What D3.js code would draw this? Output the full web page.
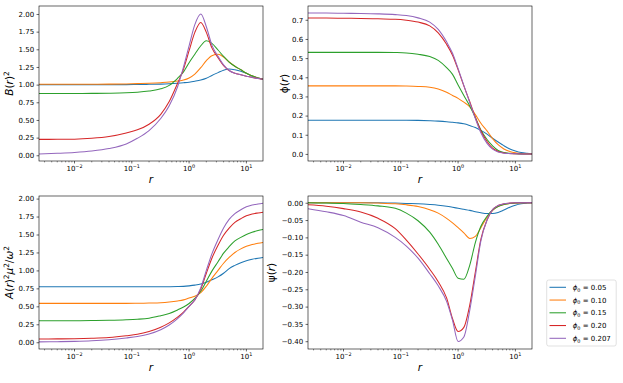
<!DOCTYPE html>
<html>
<head>
<meta charset="utf-8">
<script src="https://cdn.jsdelivr.net/npm/d3@7"></script>
<style>
body { margin: 0; background: #fff; }
svg text { font-family: 'DejaVu Sans', sans-serif; font-size: 7px; fill: #000; }
</style>
</head>
<body>
<div id="chart"></div>
<script>
// Sample radii (same grid for every curve)
const rGrid = [0.0024, 0.005, 0.01, 0.02, 0.04, 0.08, 0.125, 0.2, 0.32, 0.45, 0.63, 0.8, 1.0,
               1.26, 1.6, 2.0, 2.5, 3.2, 4.0, 5.0, 6.3, 8.0, 10, 12.6, 16, 19.5];

const phi0Labels = ['0.05', '0.10', '0.15', '0.20', '0.207'];
const colors = ['#1f77b4', '#ff7f0e', '#2ca02c', '#d62728', '#9467bd'];

// B(r)^2
const bSq = [
    [1.0, 1.0, 1.0, 1.0, 1.0, 1.0, 1.002, 1.004, 1.007, 1.012, 1.02, 1.027, 1.035, 1.048, 1.065, 1.09, 1.13, 1.17, 1.205, 1.22, 1.21, 1.19, 1.16, 1.12, 1.095, 1.075],
    [1.005, 1.005, 1.005, 1.006, 1.007, 1.01, 1.014, 1.02, 1.028, 1.036, 1.05, 1.065, 1.095, 1.15, 1.24, 1.34, 1.41, 1.43, 1.39, 1.32, 1.26, 1.21, 1.16, 1.125, 1.095, 1.075],
    [0.875, 0.875, 0.875, 0.876, 0.878, 0.884, 0.893, 0.91, 0.94, 0.99, 1.09, 1.18, 1.31, 1.43, 1.55, 1.62, 1.585, 1.49, 1.40, 1.32, 1.26, 1.21, 1.16, 1.125, 1.095, 1.075],
    [0.225, 0.226, 0.228, 0.24, 0.265, 0.315, 0.36, 0.44, 0.58, 0.76, 1.02, 1.22, 1.48, 1.74, 1.88, 1.74, 1.52, 1.38, 1.27, 1.20, 1.16, 1.14, 1.12, 1.10, 1.087, 1.075],
    [0.018, 0.028, 0.04, 0.06, 0.095, 0.16, 0.24, 0.35, 0.52, 0.70, 0.97, 1.25, 1.55, 1.85, 2.0, 1.82, 1.56, 1.40, 1.28, 1.20, 1.16, 1.14, 1.12, 1.10, 1.087, 1.075]
];

// phi(r)
const phiR = [
    [0.176, 0.176, 0.176, 0.176, 0.176, 0.176, 0.176, 0.175, 0.173, 0.171, 0.168, 0.165, 0.162, 0.157, 0.148, 0.138, 0.123, 0.103, 0.082, 0.062, 0.043, 0.026, 0.015, 0.007, 0.003, 0.001],
    [0.355, 0.355, 0.355, 0.355, 0.355, 0.355, 0.354, 0.352, 0.348, 0.339, 0.322, 0.305, 0.29, 0.27, 0.246, 0.205, 0.16, 0.12, 0.08, 0.048, 0.026, 0.013, 0.006, 0.002, 0.0005, 0],
    [0.53, 0.53, 0.53, 0.53, 0.53, 0.529, 0.527, 0.52, 0.508, 0.488, 0.45, 0.415, 0.36, 0.305, 0.25, 0.19, 0.125, 0.075, 0.042, 0.018, 0.007, 0.003, 0.001, 0, 0, 0],
    [0.709, 0.709, 0.708, 0.707, 0.705, 0.703, 0.698, 0.688, 0.668, 0.632, 0.572, 0.515, 0.44, 0.355, 0.272, 0.19, 0.12, 0.065, 0.03, 0.013, 0.005, 0.002, 0.001, 0, 0, 0],
    [0.735, 0.735, 0.734, 0.733, 0.731, 0.727, 0.722, 0.71, 0.688, 0.65, 0.585, 0.525, 0.445, 0.358, 0.268, 0.185, 0.11, 0.055, 0.025, 0.01, 0.004, 0.0015, 0.0005, 0, 0, 0]
];

// A(r)^2 mu^2 / omega^2
const aSq = [
    [0.772, 0.772, 0.772, 0.772, 0.772, 0.772, 0.772, 0.772, 0.772, 0.773, 0.775, 0.778, 0.785, 0.795, 0.81, 0.835, 0.87, 0.91, 0.96, 1.025, 1.07, 1.108, 1.135, 1.155, 1.17, 1.18],
    [0.541, 0.541, 0.541, 0.541, 0.541, 0.541, 0.542, 0.545, 0.55, 0.56, 0.575, 0.59, 0.615, 0.64, 0.69, 0.78, 0.89, 1.0, 1.10, 1.18, 1.25, 1.30, 1.335, 1.36, 1.378, 1.39],
    [0.30, 0.30, 0.30, 0.302, 0.305, 0.312, 0.32, 0.335, 0.37, 0.40, 0.45, 0.49, 0.54, 0.61, 0.71, 0.85, 0.99, 1.12, 1.24, 1.33, 1.41, 1.46, 1.50, 1.53, 1.555, 1.57],
    [0.046, 0.047, 0.049, 0.055, 0.066, 0.09, 0.11, 0.15, 0.21, 0.27, 0.35, 0.42, 0.50, 0.59, 0.74, 0.96, 1.17, 1.35, 1.49, 1.59, 1.67, 1.72, 1.76, 1.785, 1.80, 1.81],
    [0.005, 0.008, 0.012, 0.02, 0.035, 0.06, 0.08, 0.115, 0.175, 0.24, 0.33, 0.41, 0.50, 0.59, 0.76, 1.0, 1.23, 1.43, 1.59, 1.71, 1.79, 1.845, 1.885, 1.91, 1.925, 1.935]
];

// psi(r)
const psiR = [
    [0, 0, 0, 0, 0, -0.001, -0.002, -0.003, -0.005, -0.007, -0.01, -0.013, -0.016, -0.019, -0.022, -0.026, -0.029, -0.031, -0.031, -0.028, -0.021, -0.013, -0.007, -0.003, -0.001, 0],
    [0, 0, 0, 0, -0.001, -0.003, -0.006, -0.011, -0.02, -0.03, -0.045, -0.058, -0.072, -0.087, -0.103, -0.097, -0.072, -0.042, -0.022, -0.01, -0.005, -0.002, -0.001, 0, 0, 0],
    [0, -0.001, -0.002, -0.005, -0.009, -0.016, -0.03, -0.052, -0.085, -0.12, -0.161, -0.19, -0.218, -0.221, -0.18, -0.115, -0.068, -0.039, -0.021, -0.011, -0.005, -0.002, -0.001, 0, 0, 0],
    [-0.006, -0.01, -0.017, -0.027, -0.045, -0.075, -0.108, -0.148, -0.192, -0.228, -0.275, -0.335, -0.372, -0.36, -0.295, -0.2, -0.105, -0.05, -0.02, -0.008, -0.003, -0.001, 0, 0, 0, 0],
    [-0.017, -0.026, -0.037, -0.056, -0.072, -0.1, -0.125, -0.16, -0.205, -0.24, -0.285, -0.34, -0.401, -0.388, -0.31, -0.212, -0.11, -0.05, -0.02, -0.008, -0.003, -0.001, 0, 0, 0, 0]
];

const bTicks = [0, 0.25, 0.5, 0.75, 1.0, 1.25, 1.5, 1.75, 2.0];
const phiTicks = [0, 0.1, 0.2, 0.3, 0.4, 0.5, 0.6, 0.7];
const aTicks = [0, 0.25, 0.5, 0.75, 1.0, 1.25, 1.5, 1.75, 2.0];
const psiTicks = [0, -0.05, -0.1, -0.15, -0.2, -0.25, -0.3, -0.35, -0.4];
const xMajor = [0.01, 0.1, 1, 10];
const xExp = ['\u22122', '\u22121', '0', '1'];

// Layout
const W = 623, H = 383;
const xDomain = [0.0024, 19.5];
const labelSize = 10.5;
const panels = [
    { key: 'b', left: 39, top: 6, w: 224, h: 155, data: bSq, yDomain: [-0.081, 2.113], ticks: bTicks, fmt: '.2f',
      ylabel: [['B', 'i'], ['(', 'n'], ['r', 'i'], [')', 'n'], ['2', 'sup']], ylabelX: 12.8 },
    { key: 'phi', left: 308, top: 6, w: 224, h: 155, data: phiR, yDomain: [-0.037, 0.772], ticks: phiTicks, fmt: '.1f',
      ylabel: [['\u03d5', 'n'], ['(', 'n'], ['r', 'i'], [')', 'n']], ylabelX: 287.5 },
    { key: 'a', left: 39, top: 196, w: 224, h: 153, data: aSq, yDomain: [-0.094, 2.036], ticks: aTicks, fmt: '.2f',
      ylabel: [['A', 'i'], ['(', 'n'], ['r', 'i'], [')', 'n'], ['2', 'sup'], ['\u03bc', 'i'], ['2', 'sup'], ['/', 'n'], ['\u03c9', 'i'], ['2', 'sup']], ylabelX: 12.8 },
    { key: 'psi', left: 308, top: 196, w: 224, h: 153, data: psiR, yDomain: [-0.4225, 0.0195], ticks: psiTicks, fmt: '.2f',
      ylabel: [['\u03c8', 'n'], ['(', 'n'], ['r', 'i'], [')', 'n']], ylabelX: 274.8 }
];

const svg = d3.select('#chart').append('svg')
    .attr('width', W)
    .attr('height', H)
    .attr('viewBox', `0 0 ${W} ${H}`);

svg.append('rect').attr('width', W).attr('height', H).attr('fill', '#fff');

// write mathtext-like runs into a text element
function mathText(textSel, parts, size) {
    let shift = 0;
    textSel.style('font-size', size + 'px');
    parts.forEach(([t, kind]) => {
        const target = kind === 'sup' ? -0.4 * size : (kind === 'sub' ? 0.26 * size : 0);
        const span = textSel.append('tspan')
            .attr('dy', target - shift)
            .text(t);
        shift = target;
        if (kind === 'i') span.attr('font-style', 'italic');
        if (kind === 'sup' || kind === 'sub') span.style('font-size', (0.7 * size) + 'px');
    });
}

panels.forEach((p, pi) => {
    const x = d3.scaleLog().domain(xDomain).range([p.left, p.left + p.w]);
    const y = d3.scaleLinear().domain(p.yDomain).range([p.top + p.h, p.top]);
    const g = svg.append('g').attr('class', `panel-${p.key}`);

    const clipId = `clip-${p.key}`;
    g.append('clipPath').attr('id', clipId)
        .append('rect')
        .attr('x', p.left).attr('y', p.top)
        .attr('width', p.w).attr('height', p.h);

    // Curves
    const line = d3.line()
        .x((d, i) => x(rGrid[i]))
        .y(d => y(d))
        .curve(d3.curveMonotoneX);

    p.data.forEach((series, si) => {
        g.append('path')
            .attr('d', line(series))
            .attr('fill', 'none')
            .attr('stroke', colors[si])
            .attr('stroke-width', 1.05)
            .attr('clip-path', `url(#${clipId})`);
    });

    // Y axis
    const yAxis = d3.axisLeft(y)
        .tickValues(p.ticks)
        .tickFormat(d3.format(p.fmt))
        .tickSize(2.45)
        .tickSizeOuter(0)
        .tickPadding(2.4);
    const yg = g.append('g')
        .attr('transform', `translate(${p.left},0)`)
        .call(yAxis);
    yg.select('.domain').remove();
    yg.selectAll('line').attr('stroke', '#000').attr('stroke-width', 0.6);
    yg.selectAll('text')
        .attr('font-family', "'DejaVu Sans', sans-serif")
        .attr('font-size', 7)
        .attr('fill', '#000');

    // X axis: minor ticks
    const minor = [];
    [0.001, 0.01, 0.1, 1, 10].forEach(dec => {
        for (let m = 2; m <= 9; m++) {
            const v = dec * m;
            if (v >= xDomain[0] && v <= xDomain[1]) minor.push(v);
        }
    });
    const xb = p.top + p.h;
    g.selectAll('.minor-tick').data(minor).enter().append('line')
        .attr('class', 'minor-tick')
        .attr('x1', d => x(d)).attr('x2', d => x(d))
        .attr('y1', xb).attr('y2', xb + 1.4)
        .attr('stroke', '#000').attr('stroke-width', 0.45);

    g.selectAll('.major-tick').data(xMajor).enter().append('line')
        .attr('class', 'major-tick')
        .attr('x1', d => x(d)).attr('x2', d => x(d))
        .attr('y1', xb).attr('y2', xb + 2.45)
        .attr('stroke', '#000').attr('stroke-width', 0.6);

    xMajor.forEach((v, i) => {
        const t = g.append('text')
            .attr('x', x(v))
            .attr('y', xb + 10)
            .attr('text-anchor', 'middle');
        mathText(t, [['10', 'n'], [xExp[i], 'sup']], 7);
    });

    // Frame
    g.append('rect')
        .attr('x', p.left).attr('y', p.top)
        .attr('width', p.w).attr('height', p.h)
        .attr('fill', 'none')
        .attr('stroke', '#000')
        .attr('stroke-width', 0.6);

    // X label
    g.append('text')
        .attr('x', p.left + p.w / 2)
        .attr('y', xb + 21.5)
        .attr('text-anchor', 'middle')
        .attr('font-style', 'italic')
        .style('font-size', labelSize + 'px')
        .text('r');

    // Y label
    const yl = g.append('text')
        .attr('transform', `translate(${p.ylabelX},${p.top + p.h / 2}) rotate(-90)`)
        .attr('text-anchor', 'middle');
    mathText(yl, p.ylabel, labelSize);
});

// Legend
const legendX = 546.7, legendY = 280;
const legend = svg.append('g').attr('class', 'legend');
legend.append('rect')
    .attr('x', legendX).attr('y', legendY)
    .attr('width', 69.5).attr('height', 66)
    .attr('rx', 2)
    .attr('fill', '#fff').attr('fill-opacity', 0.8)
    .attr('stroke', '#ccc').attr('stroke-width', 0.6);

phi0Labels.forEach((lab, i) => {
    const ly = legendY + 7.3 + i * 12.75;
    legend.append('line')
        .attr('x1', legendX + 2.8).attr('x2', legendX + 19.3)
        .attr('y1', ly).attr('y2', ly)
        .attr('stroke', colors[i])
        .attr('stroke-width', 1.05);
    const t = legend.append('text')
        .attr('x', legendX + 26)
        .attr('y', ly + 2.5);
    mathText(t, [['\u03d5', 'i'], ['0', 'sub'], [' = ' + lab, 'n']], 7);
});
</script>
</body>
</html>
